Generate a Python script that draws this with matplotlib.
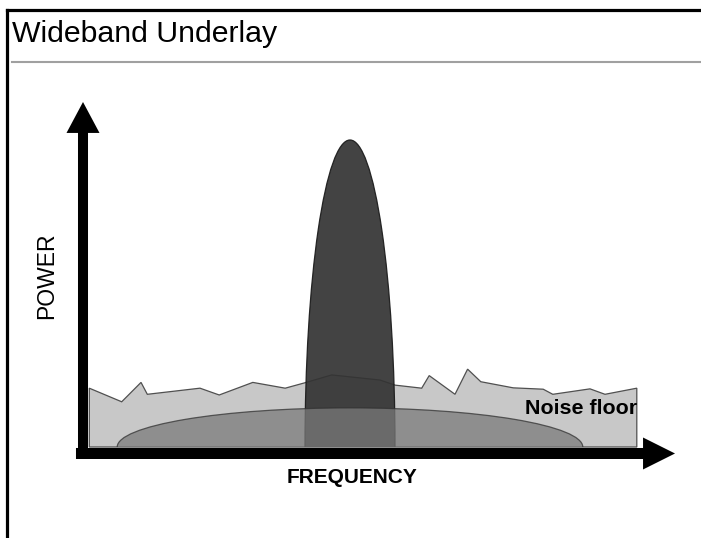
import numpy as np
import matplotlib
matplotlib.use("Agg")
import matplotlib.pyplot as plt
from matplotlib.patches import Polygon, Ellipse, Rectangle, FancyArrow

plt.rcParams['font.family'] = ['Liberation Sans', 'DejaVu Sans']

# ---- data (frequency: 0..100 arbitrary units, power: 0..100 arbitrary units)
noise_freq = [1.05, 6.45, 9.67, 10.72, 19.5, 22.7, 28.3, 33.7, 37.0, 41.45, 49.5,
              52.0, 56.45, 57.7, 62.0, 64.1, 66.3, 71.7, 76.7, 78.3, 84.5, 87.0, 92.3]
noise_power = [17.3, 13.3, 19.0, 15.5, 17.3, 15.3, 19.0, 17.3, 18.9, 21.2, 19.7,
               18.2, 17.3, 21.0, 15.5, 22.9, 19.2, 17.4, 17.0, 15.5, 17.1, 15.5, 17.3]

peak_center, peak_halfwidth, peak_height = 44.5, 7.5, 90.3
wide_center, wide_halfwidth, wide_height = 44.5, 38.8, 11.5

title = "Wideband Underlay"
x_label = "FREQUENCY"
y_label = "POWER"
noise_label = "Noise floor"

# ---- figure
W, H = 701, 538
fig = plt.figure(figsize=(W / 100, H / 100), dpi=100)
ax = fig.add_axes([0, 0, 1, 1])
# data frame: freq 0 at pixel x=83, 6 px/unit; power 0 at pixel y=447 (from top), 3.4 px/unit
ax.set_xlim(-83 / 6, (W - 83) / 6)
ax.set_ylim(-(H - 447) / 3.4, 447 / 3.4)
ax.axis('off')

# frame lines & title
fig.add_artist(plt.Line2D([7 / W, 1], [1 - 10.3 / H, 1 - 10.3 / H], color='black', lw=2.3,
                          transform=fig.transFigure))
fig.add_artist(plt.Line2D([7 / W, 7 / W], [0, 1 - 10.3 / H], color='black', lw=2.3,
                          transform=fig.transFigure))
fig.add_artist(plt.Line2D([12 / W, 1], [1 - 62 / H, 1 - 62 / H], color='#a0a0a0', lw=1.5,
                          transform=fig.transFigure))
fig.text(12 / W, 1 - 42 / H, title, fontsize=21.8, va='baseline', ha='left', color='black')

# noise floor
verts = [(noise_freq[0], 0)] + list(zip(noise_freq, noise_power)) + [(noise_freq[-1], 0)]
ax.add_patch(Polygon(verts, closed=True, facecolor='#c8c8c8', edgecolor='#505050',
                     lw=0.9, zorder=1))

clip = Rectangle((-20, 0), 150, 200, transform=ax.transData, visible=False)
ax.add_patch(clip)

# narrowband peak
peak = Ellipse((peak_center, 0), 2 * peak_halfwidth, 2 * peak_height,
               facecolor='#333333', edgecolor='#1a1a1a', lw=0.9, alpha=0.92, zorder=2)
ax.add_patch(peak)
peak.set_clip_path(clip)

# wideband underlay
wide = Ellipse((wide_center, 0), 2 * wide_halfwidth, 2 * wide_height,
               facecolor='#7a7a7a', edgecolor='#303030', lw=0.9, alpha=0.74, zorder=3)
ax.add_patch(wide)
wide.set_clip_path(clip)

# axes arrows
ax.add_patch(FancyArrow(0, -3.53, 0, 105.0, width=1.67, head_width=5.5, head_length=9.1,
                        length_includes_head=True, color='black', lw=0, zorder=5))
ax.add_patch(FancyArrow(-1.17, -1.91, 99.84, 0, width=3.24, head_width=9.4, head_length=5.33,
                        length_includes_head=True, color='black', lw=0, zorder=5))

# labels
ax.text(44.83, -9.1, x_label, fontsize=15, fontweight='bold', ha='center', va='center')
ax.text(-6.08, 50.3, y_label, fontsize=16.5, rotation=90, ha='center', va='center')
ax.text(73.67, 9.7, noise_label, fontsize=15.4, fontweight='bold', ha='left',
        va='baseline', zorder=6)

fig.savefig('out.png', dpi=100)
